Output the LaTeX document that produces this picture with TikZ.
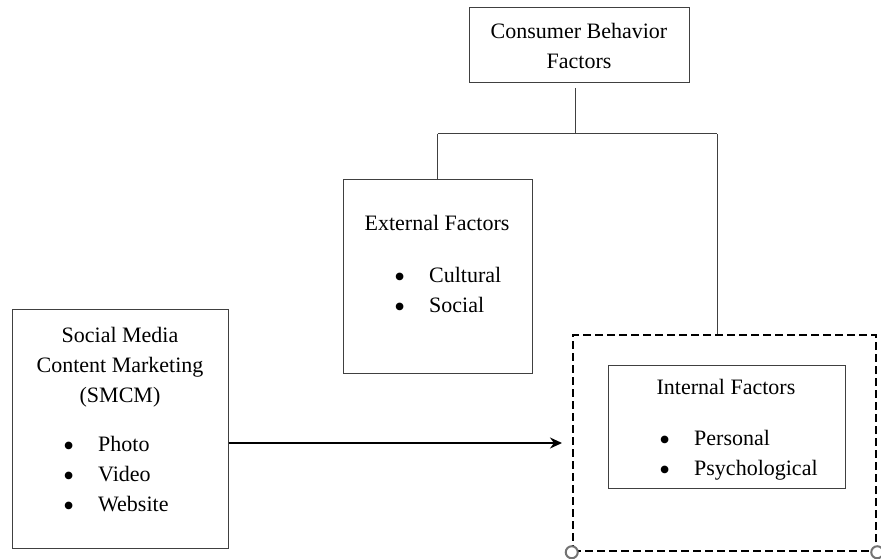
\documentclass[tikz,border=0pt]{standalone}
\usepackage{fontspec}
\setmainfont{Liberation Serif}
\usepackage{xcolor}
\usepackage{tikz}
\usetikzlibrary{arrows.meta,positioning,calc}
\newcommand{\itemdot}{\makebox[35pt][l]{\raisebox{-0.22em}{\scalebox{1.45}{\textbullet}}}}

\begin{document}
\begin{tikzpicture}[x=1pt,y=-1pt,
  font=\fontsize{22}{30}\selectfont,
  frame/.style={draw=black!75,line width=1pt,inner sep=0pt,align=center},
  txt/.style={inner sep=0pt,align=center},
  items/.style={inner sep=0pt,align=left,anchor=west},
  link/.style={draw=black!75,line width=1pt},
  focus/.style={draw=black,line width=2.5pt,dash pattern=on 8pt off 4pt,inner sep=0pt},
  handle/.style={circle,draw=black!55,line width=2pt,fill=white,minimum size=12pt,inner sep=0pt},
  arr/.style={-{Stealth[length=12pt,width=11pt]},line width=1.5pt}]
\useasboundingbox (0,0) rectangle (881,559);
% top of the tree
\node[frame,minimum width=220pt,minimum height=75pt] (cbf) at (579,45.5) {Consumer Behavior\\Factors};
\coordinate (stem) at (575,88);
\coordinate (split) at (575,134);
\coordinate (jl) at (437.5,134);
\coordinate (jr) at (717,134);
% external factors
\node[frame,minimum width=189pt,minimum height=194pt] (ext) at (437.5,276) {};
\node[txt] (extT) at (437,223) {External Factors};
\node[items] (extL) at (394,292.5) {\itemdot Cultural\\\itemdot Social};
% SMCM
\node[frame,minimum width=216pt,minimum height=239pt] (smcm) at (120,428.5) {};
\node[txt] (smcmT) at (120,367) {Social Media\\Content Marketing\\(SMCM)};
\node[items] (smcmL) at (63,476) {\itemdot Photo\\\itemdot Video\\\itemdot Website};
% internal factors
\node[focus,minimum width=303pt,minimum height=216pt] (intd) at (724.5,443) {};
\node[frame,minimum width=237pt,minimum height=123pt] (int) at (726.5,426.5) {};
\node[txt] (intT) at (726,387) {Internal Factors};
\node[items] (intL) at (659,455) {\itemdot Personal\\\itemdot Psychological};
\node[handle] (hl) at (intd.south west) {};
\node[handle] (hr) at (intd.south east) {};
% connectors
\coordinate (tip) at (562,443);
\draw[link] (stem) -- (split);
\draw[link] (jl) -- (jr);
\draw[link] (jl) -- (ext.north);
\draw[link] (jr) -- (jr |- intd.north);
\draw[arr] (smcm.east |- tip) -- (tip);
\end{tikzpicture}
\end{document}
